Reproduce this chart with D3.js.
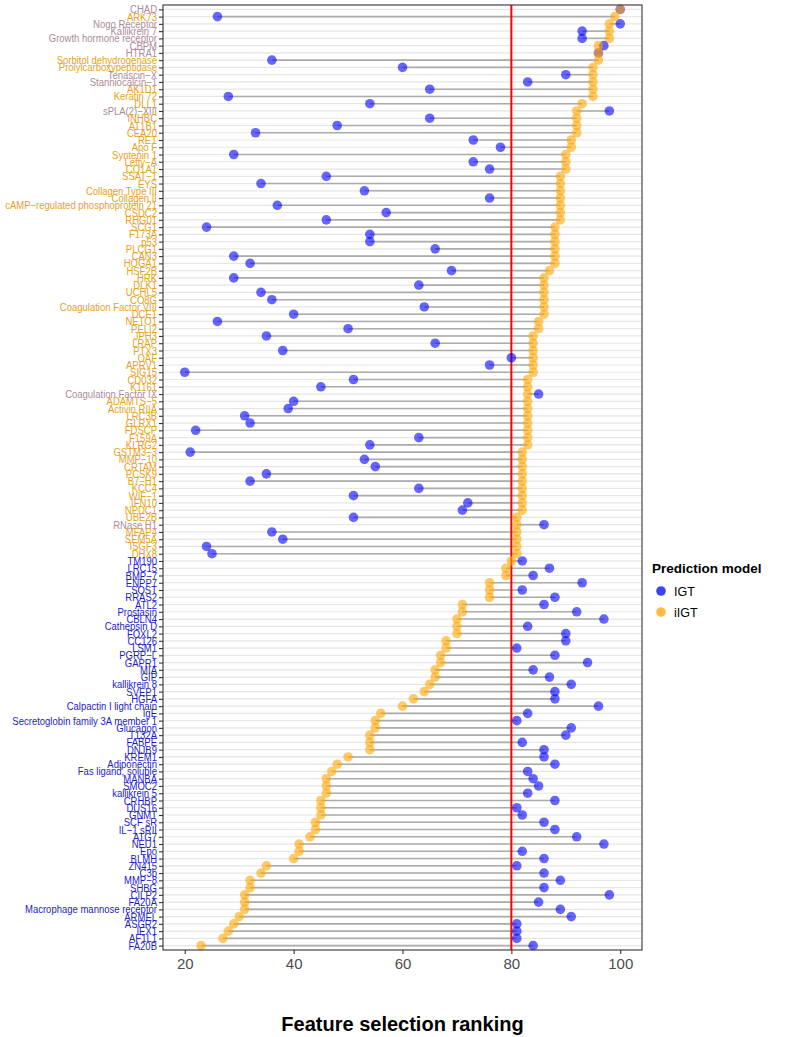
<!DOCTYPE html>
<html>
<head>
<meta charset="utf-8">
<script src="https://cdn.jsdelivr.net/npm/d3@7"></script>
<style>
  body { margin: 0; background: #fff; }
  svg { display: block; font-family: "Liberation Sans", Arial, Helvetica, sans-serif; }
</style>
</head>
<body>
<div id="chart"></div>
<script>
const features = ["CHAD","ARK73","Nogo Receptor","Kallikrein 7","Growth hormone receptor","CBPM","HTRA1","Sorbitol dehydrogenase","Prolylcarboxypeptidase","Tenascin\u2212X","Stanniocalcin\u22121","AK1D1","Keratin 72","DLL1","sPLA(2)\u2212XIII","INHBC","AT1B1","CEA20","RET","Apo F","Syntenin 1","Lefty\u2212A","CO1A1","SSAT\u22121","EYS","Collagen Type III","Collagen II","cAMP\u2212regulated phosphoprotein 21","CSDC2","RHG01","SCG1","F173A","p53","PLCG1","CAN3","HOGA1","HSF2B","HRK","DLK1","UCHL5","CO8G","Coagulation Factor VIII","DCE1","NETO1","PELI2","JPH3","LRAP","PTX3","OAF","APRV1","SIG15","CD032","K1161","Coagulation Factor IX","ADAMTS\u22125","Activin RIIA","LRC3B","GLRX1","FDSCP","F159A","KLRG2","GSTM3\u22123","MMP\u221210","CRTAM","PCSK9","B7\u2212H1","KCC4","WIF\u22121","IFN10","NPDC1","UBE2B","RNase H1","MFAP4","SEM5A","ISGF3","DHX8","TM190","LRC15","BMP\u22127","ENPP7","SOST","RRAS2","ATL2","Prostasin","CBLN4","Cathepsin D","FOXL2","CC126","LSM1","PGRP\u2212L","GAPR1","MIA","GIP","kallikrein 8","SVEP1","HGFA","Calpactin I light chain","IgE","Secretoglobin family 3A member 1","Glucagon","T132A","FABPE","DNJB9","KREM1","Adiponectin","Fas ligand, soluble","MANBA","SMOC2","kallikrein 5","CRHBP","DUS16","GNMT","SCF sR","IL\u22121 sRII","ATG7","NEU1","Epo","BLMH","ZN415","C3b","MMP\u22128","SHBG","CILP2","FA20A","Macrophage mannose receptor","ARMEL","ASGR2","IEX1","AF1L1","FA20B"];

const igt = [100,26,100,93,93,97,96,36,60,90,83,65,28,54,98,65,48,33,73,78,29,73,76,46,34,53,76,37,57,46,24,54,54,66,29,32,69,29,63,34,36,64,40,26,50,35,66,38,80,76,20,51,45,85,40,39,31,32,22,63,54,21,53,55,35,32,63,51,72,71,51,86,36,38,24,25,82,87,84,93,82,88,86,92,97,83,90,90,81,88,94,84,87,91,88,88,96,83,81,91,90,82,86,86,88,83,84,85,83,88,81,82,86,88,92,97,82,86,81,86,89,86,98,85,89,91,81,81,81,84];

const iigt = [100,99,98,98,98,96,96,96,95,95,95,95,95,93,92,92,92,92,91,91,90,90,90,89,89,89,89,89,89,89,88,88,88,88,88,88,87,86,86,86,86,86,86,85,85,84,84,84,84,84,84,83,83,83,83,83,83,83,83,83,83,82,82,82,82,82,82,82,82,82,81,81,81,81,81,81,80,79,79,76,76,76,71,71,70,70,70,68,68,67,67,66,66,65,64,62,60,56,55,55,54,54,54,50,48,47,46,46,46,45,45,45,44,44,43,41,41,40,35,34,32,32,31,31,31,30,29,28,27,23];

const models = ["IGT", "iIGT"];
const xTicks = [20, 40, 60, 80, 100];
const threshold = 80;
const xTitle = "Feature selection ranking";
const legendTitle = "Prediction model";

const W = 800, H = 1037;
const panel = { left: 163, right: 642, top: 5, bottom: 950 };
const dotColor = { IGT: "#0000FF", iIGT: "#FFA500" };
const labelColor = { both: "#ab8a99", iIGT: "#e6a118", IGT: "#1c1cc8" };

const rows = features.map((f, i) => ({ name: f, IGT: igt[i], iIGT: iigt[i] }));

const svg = d3.select("#chart").append("svg").attr("width", W).attr("height", H);

const x = d3.scaleLinear().domain([16, 104]).range([panel.left, panel.right]);
const y = d3.scalePoint().domain(features).range([panel.top, panel.bottom]).padding(0.6);

svg.append("rect").attr("x", panel.left).attr("y", panel.top)
  .attr("width", panel.right - panel.left).attr("height", panel.bottom - panel.top)
  .attr("fill", "#fff");

svg.append("g").selectAll("line").data(features).join("line")
  .attr("x1", panel.left).attr("x2", panel.right)
  .attr("y1", d => y(d)).attr("y2", d => y(d))
  .attr("stroke", "#e6e6e6").attr("stroke-width", 1.2);

svg.append("g").selectAll("line").data(rows).join("line")
  .attr("x1", d => x(Math.min(d.IGT, d.iIGT))).attr("x2", d => x(Math.max(d.IGT, d.iIGT)))
  .attr("y1", d => y(d.name)).attr("y2", d => y(d.name))
  .attr("stroke", "#ababab").attr("stroke-width", 1.6);

svg.append("line").attr("x1", x(threshold)).attr("x2", x(threshold))
  .attr("y1", panel.top).attr("y2", panel.bottom)
  .attr("stroke", "#ff0000").attr("stroke-width", 2);

models.forEach(m => {
  svg.append("g").selectAll("circle").data(rows).join("circle")
    .attr("cx", d => x(d[m])).attr("cy", d => y(d.name)).attr("r", 4.8)
    .attr("fill", dotColor[m]).attr("fill-opacity", 0.6);
});

svg.append("rect").attr("x", panel.left).attr("y", panel.top)
  .attr("width", panel.right - panel.left).attr("height", panel.bottom - panel.top)
  .attr("fill", "none").attr("stroke", "#333").attr("stroke-width", 1.1);

// y axis (labels slightly condensed horizontally)
const sx = 0.865;
const yAxis = svg.append("g").attr("transform", `translate(${panel.left},0)`)
  .call(d3.axisLeft(y).tickSize(4).tickPadding(2));
yAxis.select(".domain").remove();
yAxis.selectAll(".tick line").attr("stroke", "#333").attr("stroke-width", 1.1);
yAxis.selectAll(".tick text")
  .attr("font-size", 11)
  .attr("font-family", "Liberation Sans, Arial, sans-serif")
  .attr("x", -6 / sx)
  .attr("transform", `scale(${sx},1)`)
  .attr("fill", d => {
    const r = rows[features.indexOf(d)];
    const a = r.IGT > threshold, b = r.iIGT > threshold;
    return a && b ? labelColor.both : (b ? labelColor.iIGT : labelColor.IGT);
  });

const xAxis = svg.append("g").attr("transform", `translate(0,${panel.bottom})`)
  .call(d3.axisBottom(x).tickValues(xTicks).tickSize(4).tickPadding(4));
xAxis.select(".domain").remove();
xAxis.selectAll(".tick line").attr("stroke", "#333").attr("stroke-width", 1.1);
xAxis.selectAll(".tick text").attr("font-size", 15).attr("fill", "#4d4d4d")
  .attr("font-family", "Liberation Sans, Arial, sans-serif");

svg.append("text").attr("x", (panel.left + panel.right) / 2).attr("y", 1031)
  .attr("text-anchor", "middle").attr("font-size", 20).attr("font-weight", "bold")
  .attr("fill", "#000").text(xTitle);

const lg = svg.append("g").attr("transform", "translate(652,0)");
lg.append("text").attr("x", 0).attr("y", 573).attr("font-size", 13.5).attr("font-weight", "bold")
  .text(legendTitle);
models.forEach((m, i) => {
  const cy = 591 + i * 21;
  lg.append("circle").attr("cx", 9).attr("cy", cy).attr("r", 4.8)
    .attr("fill", dotColor[m]).attr("fill-opacity", 0.75);
  lg.append("text").attr("x", 22).attr("y", cy + 4.5).attr("font-size", 12.5).attr("fill", "#000").text(m);
});
</script>
</body>
</html>
